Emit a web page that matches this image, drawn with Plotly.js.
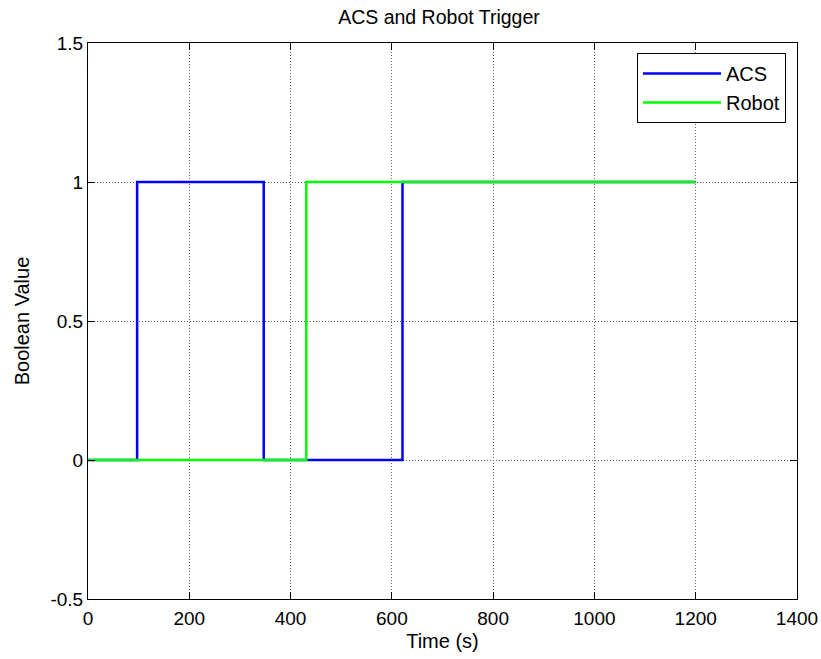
<!DOCTYPE html>
<html>
<head>
<meta charset="utf-8">
<script src="https://cdn.plot.ly/plotly-3.0.1.min.js"></script>
<style>html,body{margin:0;padding:0;background:#fff;}#chart{width:821px;height:659px;}</style>
</head>
<body>
<div id="chart"></div>
<script>
const acsTime = [0, 97, 347, 621, 1200];
const acsValue = [0, 1, 0, 1, 1];
const robotTime = [0, 431, 1200];
const robotValue = [0, 1, 1];
const xTicks = [0, 200, 400, 600, 800, 1000, 1200, 1400];
const yTicks = [-0.5, 0, 0.5, 1, 1.5];
const yTickLabels = ['-0.5', '0', '0.5', '1', '1.5'];

const font = {family: 'Liberation Sans, Arial, sans-serif', color: '#000'};
const traces = [
  {x: acsTime, y: acsValue, name: 'ACS', legendgroup: 'a', mode: 'lines', line: {shape: 'hv', color: '#0000FF', width: 2.5}},
  {x: robotTime, y: robotValue, name: 'Robot', legendgroup: 'b', mode: 'lines', line: {shape: 'hv', color: '#00FF00', width: 2.5}}
];
const axisCommon = {
  showline: true, linecolor: '#000', linewidth: 1, mirror: 'ticks',
  ticks: 'inside', ticklen: 7, tickcolor: '#000',
  showgrid: true, gridcolor: '#666', griddash: '1px,2px', gridwidth: 1,
  zeroline: false, tickfont: {...font, size: 19}
};
const layout = {
  width: 821, height: 659,
  margin: {l: 88, r: 24, t: 43, b: 60},
  paper_bgcolor: '#fff', plot_bgcolor: '#fff',
  font: font,
  title: {text: 'ACS and Robot Trigger', font: {...font, size: 19.5}, x: 0.495, xref: 'paper', xanchor: 'center', y: 0.985, yanchor: 'top'},
  xaxis: {...axisCommon, range: [0, 1400], tickvals: xTicks, ticktext: xTicks.map(String), ticklabelstandoff: 2,
    title: {text: 'Time (s)', font: {...font, size: 20}, standoff: 6}},
  yaxis: {...axisCommon, range: [-0.5, 1.5], tickvals: yTicks, ticktext: yTickLabels,
    title: {text: 'Boolean Value', font: {...font, size: 20}, standoff: 15}},
  showlegend: true,
  legend: {x: 0.9845, xanchor: 'right', y: 0.982, yanchor: 'top', bgcolor: '#fff', bordercolor: '#000', borderwidth: 1,
    font: {...font, size: 20}, itemwidth: 78, traceorder: 'grouped', tracegroupgap: 0}
};
Plotly.newPlot('chart', traces, layout, {displayModeBar: false, staticPlot: true});
</script>
</body>
</html>
